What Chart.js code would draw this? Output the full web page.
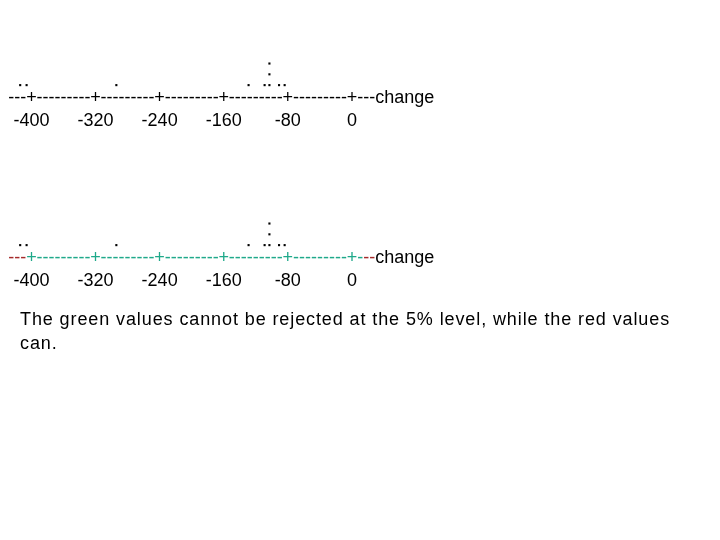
<!DOCTYPE html>
<html>
<head>
<meta charset="utf-8">
<script src="https://cdn.jsdelivr.net/npm/chart.js@4/dist/chart.umd.min.js"></script>
<style>
  body { margin: 0; width: 720px; height: 540px; background: #fff; position: relative; font-family: "Liberation Sans", Arial, sans-serif; }
  .plot { position: absolute; left: 0; width: 720px; height: 150px; }
  #top { top: 0; }
  #bottom { top: 160px; }
  #note { position: absolute; left: 20px; top: 307px; width: 680px; font-size: 18px; line-height: 24px; letter-spacing: 0.9px; color: #000; }
</style>
</head>
<body>
<div class="plot" id="top"><canvas id="c1" width="720" height="150"></canvas></div>
<div class="plot" id="bottom"><canvas id="c2" width="720" height="150"></canvas></div>
<div id="note">The green values cannot be rejected at the 5% level, while the red values can.</div>
<script>
// values
var changes = [-414, -406, -294, -129, -109, -103, -103, -103, -91, -84];
var tickValues = [-400, -320, -240, -160, -80, 0];
var axisTitle = 'change';

var FONT = '"Liberation Sans", Arial, sans-serif';

// stack equal values on top of each other like a dot plot
var seen = {};
var dots = changes.map(function (v) {
  seen[v] = (seen[v] || 0) + 1;
  return { x: v, y: seen[v] };
});

// draws the axis as "---+---------+ ... +---change"
var textAxis = {
  id: 'textAxis',
  afterDraw: function (chart, args, opts) {
    var ctx = chart.ctx;
    var xs = chart.scales.x;
    var y = chart.chartArea.bottom + 6;
    ctx.save();
    ctx.font = '18px ' + FONT;
    ctx.textBaseline = 'alphabetic';
    var plusW = ctx.measureText('+').width;
    var dashW = ctx.measureText('-').width;
    var px = tickValues.map(function (v) { return xs.getPixelForValue(v); });
    var n = px.length;

    ctx.textAlign = 'right';
    ctx.fillStyle = opts.left;
    ctx.fillText('---', px[0] - plusW / 2, y);

    ctx.textAlign = 'center';
    ctx.fillStyle = opts.inner;
    for (var i = 0; i < n; i++) {
      ctx.fillText('+', px[i], y);
      if (i < n - 1) ctx.fillText('---------', (px[i] + px[i + 1]) / 2, y);
    }

    ctx.textAlign = 'left';
    var x = px[n - 1] + plusW / 2;
    opts.right.forEach(function (c) {
      ctx.fillStyle = c;
      ctx.fillText('-', x, y);
      x += dashW;
    });
    ctx.fillStyle = '#000';
    ctx.fillText(axisTitle, x, y);
    ctx.restore();
  }
};

function makeChart(id, colors) {
  return new Chart(document.getElementById(id), {
    type: 'scatter',
    data: {
      datasets: [{
        data: dots,
        pointStyle: 'rect',
        pointRadius: 1.5,
        borderWidth: 0,
        backgroundColor: '#000',
        borderColor: '#000',
        clip: false
      }]
    },
    options: {
      responsive: false,
      animation: false,
      layout: { padding: { left: 6, right: 344, top: 43, bottom: 13 } },
      plugins: {
        legend: { display: false },
        tooltip: { enabled: false },
        textAxis: colors
      },
      scales: {
        x: {
          type: 'linear',
          min: -430,
          max: 30,
          border: { display: false },
          grid: { display: false, drawTicks: false },
          afterBuildTicks: function (s) {
            s.ticks = tickValues.map(function (v) { return { value: v }; });
          },
          afterFit: function (s) { s.height = 40; },
          ticks: {
            padding: 13,
            color: '#000',
            autoSkip: false,
            maxRotation: 0,
            font: { family: FONT, size: 18 }
          }
        },
        y: { display: false, min: -0.1, max: 4.9 }
      }
    },
    plugins: [textAxis]
  });
}

makeChart('c1', { left: '#000', inner: '#000', right: ['#000', '#000', '#000'] });
makeChart('c2', { left: '#a52a2a', inner: '#1fa98a', right: ['#1fa98a', '#a52a2a', '#a52a2a'] });
</script>
</body>
</html>
